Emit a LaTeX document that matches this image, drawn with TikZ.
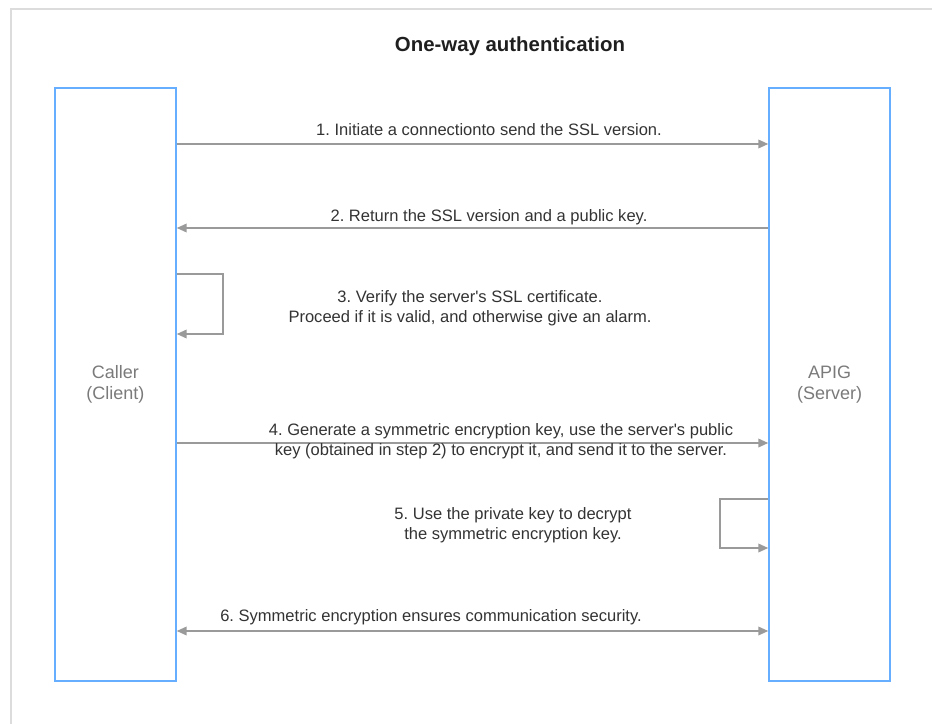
\documentclass[tikz,border=0pt]{standalone}
\usepackage{fontspec}
\setmainfont{Liberation Sans}
\usetikzlibrary{arrows.meta}
\definecolor{lane}{HTML}{66AEFF}
\definecolor{wire}{HTML}{9A9A9A}
\definecolor{ink}{HTML}{333333}
\definecolor{soft}{HTML}{7A7A7A}
\definecolor{frame}{HTML}{DCDCDC}
\frenchspacing
\tikzset{
  tip/.tip={Triangle[length=7.5pt,width=6.5pt]},
  party/.style={draw=lane, line width=1.1pt, minimum width=90.75pt, minimum height=444.75pt,
    inner sep=0pt, align=center, text=soft, font=\fontsize{13.5}{16}\selectfont},
  msg/.style={draw=wire, line width=1.2pt, -tip},
  msgboth/.style={draw=wire, line width=1.2pt, tip-tip},
  lbl/.style={text=ink, align=center, inner sep=0pt, font=\fontsize{12.4}{14.8}\selectfont},
}
\begin{document}
\begin{tikzpicture}[x=0.75pt, y=-0.75pt]
  \useasboundingbox (0,0) rectangle (932,724);
  % outer frame edges
  \draw[frame, line width=1.5pt] (11,724) -- (11,9) -- (932,9);

  % title
  \node[text=black!88, font=\bfseries\fontsize{15.3}{18}\selectfont] (title) at (510,46) {One-way authentication};

  % the two parties
  \node[party] (caller) at (115.5,384.5) {Caller\\(Client)};
  \node[party] (server) at (829.5,384.5) {APIG\\(Server)};

  % rows of the exchange
  \coordinate (r1) at (0,144);
  \coordinate (r2) at (0,228);
  \coordinate (r3a) at (0,274);
  \coordinate (r3b) at (0,334);
  \coordinate (r4) at (0,443);
  \coordinate (r5a) at (0,499);
  \coordinate (r5b) at (0,548);
  \coordinate (r6) at (0,631);

  % 1
  \draw[msg] (caller.east |- r1) -- (server.west |- r1);
  \node[lbl] (t1) at (489,130) {1. Initiate a connectionto send the SSL version.};
  % 2
  \draw[msg] (server.west |- r2) -- (caller.east |- r2);
  \node[lbl] (t2) at (489,217) {2. Return the SSL version and a public key.};
  % 3
  \draw[msg] (caller.east |- r3a) -- ++(46,0) |- (caller.east |- r3b);
  \node[lbl] (t3) at (470,308) {3. Verify the server\textquotesingle s SSL certificate.\\Proceed if it is valid, and otherwise give an alarm.};
  % 4
  \draw[msg] (caller.east |- r4) -- (server.west |- r4);
  \node[lbl] (t4) at (501,441.5) {4. Generate a symmetric encryption key, use the server\textquotesingle s public\\key (obtained in step 2) to encrypt it, and send it to the server.};
  % 5
  \draw[msg] (server.west |- r5a) -- ++(-48,0) |- (server.west |- r5b);
  \node[lbl] (t5) at (513,525) {5. Use the private key to decrypt\\the symmetric encryption key.};
  % 6
  \draw[msgboth] (caller.east |- r6) -- (server.west |- r6);
  \node[lbl] (t6) at (431,617) {6. Symmetric encryption ensures communication security.};
\end{tikzpicture}
\end{document}
